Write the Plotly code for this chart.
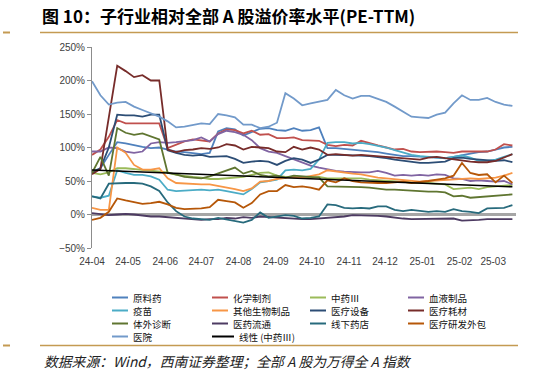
import plotly.graph_objects as go
import numpy as np
import pandas as pd

# ---------------- data (weekly, % premium vs. all-A PE-TTM) ----------------
dates = pd.date_range("2024-04-01", periods=51, freq="7D")

yuanliao = [64, 69, 89, 108, 106, 103, 101, 99, 100, 97, 94, 93, 92,
            90, 92, 124, 129, 127, 118, 123, 128, 129, 126, 125, 129, 125, 126, 130,
            99, 99, 98, 97, 96, 95, 93, 91, 89, 87,
            87, 86, 85, 84, 84, 86, 89, 91, 93, 94, 97, 100, 101]
huaxue = [89, 97, 116, 141, 136, 136, 136, 136, 136, 99, 104, 109, 112,
          111, 109, 121, 127, 126, 121, 125, 119, 120, 114, 114, 115, 111, 111, 110,
          104, 102, 104, 103, 110, 106, 103, 100, 97, 98, 94,
          93, 94, 94, 93, 92, 94, 94, 93, 94, 97, 105, 103]
zhongyao = [62, 60, 63, 69, 69, 68, 67, 66, 64, 63, 59, 57, 56,
            55, 53, 53, 54, 55, 56, 59, 62, 63, 58, 56, 55, 56, 55, 56,
            54, 54, 54, 53, 54, 52, 51, 51, 50, 49, 48,
            47, 47, 46, 45, 38, 39, 40, 38, 41, 42, 43, 44]
xueye = [94, 94, 100, 99, 94, 92, 94, 106, 108, 107, 108, 110, 111,
         115, 109, 120, 125, 123, 119, 111, 99, 94, 92, 87, 82, 77, 73, 70,
         67, 65, 64, 63, 63,
         63, 65, 62, 58, 59, 58, 59, 58, 60, 59, 54, 53, 50, 51, 50, 49, 50, 45]
yimiao = [27, 25, 28, 66, 62, 59, 59, 57, 52, 37, 35, 36, 37,
          37, 36, 37, 35, 33, 30, 38, 48, 50, 52, 66, 67, 66, 68, 82, 107, 108, 108, 106, 107,
          105, 103, 100, 96, 92, 89, 87, 86, 85, 84, 86, 88, 85, 80, 80, 82, 86, 90]
qita = [10, 7, 7, 100, 92, 74, 67, 67, 69, 54, 47, 46, 46,
        45, 45, 43, 41, 38, 35, 39, 49, 50, 53, 54, 56, 55, 57, 60,
        66, 64, 62, 61, 60, 57, 55, 54, 53, 52, 50,
        49, 50, 51, 52, 53, 54, 54, 53, 54, 55, 58, 62]
shebei = [62, 69, 100, 149, 148, 148, 146, 149, 149, 96, 92, 89, 88,
          89, 86, 87, 87, 83, 77, 79, 80, 79, 74, 80, 84, 82, 77, 82, 89, 89, 89, 88, 88,
          87, 86, 84, 82, 80, 78, 77, 77, 78, 79, 84, 85, 83, 82, 81, 80, 81, 78]
haocai = [60, 68, 145, 222, 214, 205, 208, 200, 200, 97, 93, 96, 97,
          99, 98, 100, 105, 103, 97, 101, 100, 99, 94, 93, 101, 97, 100, 97, 89, 90, 89, 88, 89,
          88, 87, 86, 85, 84, 83, 82, 85, 86, 84, 82, 81, 79, 78, 78, 80, 85, 90]
zhenduan = [62, 86, 58, 129, 122, 119, 121, 116, 112, 62, 60, 56, 55,
            54, 57, 61, 66, 70, 61, 65, 59, 57, 58, 55, 58, 57, 56, 55,
            42, 42, 42, 42, 41, 40, 38, 37, 37, 36, 36,
            35, 34, 34, 33, 27, 28, 25, 26, 27, 27, 28, 30]
liutong = [2, 1, -1, 0, 1, 0, -2, -3, -3, -4, -5, -6, -7,
           -8, -7, -7, -5, -6, -4, -5, -3, -4, -4, -5, -6, -7, -7, -6,
           -6, -5, -3, -1, -1, -1, -2, -3, -5, -6, -7,
           -7, -7, -7, -6, -6, -9, -9, -8, -7, -7, -7, -7]
yaodian = [27, 24, 46, 47, 47, 47, 46, 42, 35, 18, 5, -3, -6,
           -7, -8, -5, -7, -10, -12, -8, 3, -5, -3, -1, -2, -6, -5, -3,
           15, 14, 10, 9, 10, 9, 12, 12, 7, 5, 7,
           5, 4, 5, 4, 8, 5, 4, 2, 9, 9, 10, 14]
waibao = [-8, -5, 4, 24, 21, 19, 16, 17, 19, 15, 10, 8, 8,
          9, 11, 22, 20, 18, 10, 17, 30, 35, 35, 44, 41, 42, 40, 37,
          51, 48, 54, 50, 48, 47, 47, 47, 48, 49, 47,
          48, 50, 52, 54, 58, 77, 62, 59, 60, 48, 58, 47]
yiyuan = [199, 178, 164, 167, 168, 161, 156, 151, 146, 139, 130, 131, 134,
          136, 135, 150, 148, 145, 134, 134, 129, 131, 137, 181, 173, 163, 166, 169,
          171, 186, 178, 173, 177, 177, 173, 168, 161, 153, 146,
          145, 144, 149, 152, 166, 178, 171, 171, 174, 168, 164, 162]

names = ["原料药", "化学制剂", "中药Ⅲ", "血液制品", "疫苗", "其他生物制品", "医疗设备",
         "医疗耗材", "体外诊断", "医药流通", "线下药店", "医疗研发外包", "医院"]
values = [yuanliao, huaxue, zhongyao, xueye, yimiao, qita, shebei, haocai,
          zhenduan, liutong, yaodian, waibao, yiyuan]
colors = ["#4F81BD", "#C0504D", "#9BBB59", "#8064A2", "#4BACC6", "#F79646", "#2C4D75",
          "#772C2A", "#5F7530", "#4D3B62", "#276A7C", "#B65708", "#729ACA"]
trend_name = "线性 (中药Ⅲ)"
trend_color = "#000000"

# ---------------- figure ----------------
W, H = 542, 377
L, R, T, B = 92, 26, 47, 129
pw, ph = W - L - R, H - T - B


def px(x):
    return (x - L) / pw


def py(y):
    return (H - B - y) / ph


fig = go.Figure()
for nm, vals, col in zip(names, values, colors):
    fig.add_trace(go.Scatter(x=dates, y=vals, mode="lines", name=nm,
                             line=dict(color=col, width=1.8), showlegend=False))

# linear trend of 中药Ⅲ
idx = np.arange(len(zhongyao))
k, b0 = np.polyfit(idx, zhongyao, 1)
fig.add_trace(go.Scatter(x=[dates[0], dates[-1]], y=[b0, b0 + k * idx[-1]], mode="lines",
                         name=trend_name, line=dict(color=trend_color, width=1.6),
                         showlegend=False))

tickfont = dict(family="Liberation Sans Narrow, Arial Narrow, Liberation Sans, Arial",
                size=10, color="#404040")
cjk = "Noto Sans CJK SC"

fig.update_layout(
    width=W, height=H, margin=dict(l=L, r=R, t=T, b=B),
    plot_bgcolor="white", paper_bgcolor="white", showlegend=False,
    xaxis=dict(type="date", range=["2024-04-01", "2025-03-20"], tickformat="%y-%m",
               dtick="M1", tick0="2024-04-01", showgrid=False, showline=False,
               zeroline=False, ticks="", tickfont=tickfont, ticklabelstandoff=6),
    yaxis=dict(range=[-50, 250], dtick=50, ticksuffix="%", showgrid=False,
               showline=True, linecolor="#8C8C8C", linewidth=1, ticks="outside",
               ticklen=4, tickcolor="#8C8C8C", zeroline=True, zerolinecolor="#A6A6A6",
               zerolinewidth=3, tickfont=tickfont),
)

gold = "#C49A52"
for yy in (32.5, 345.5):
    fig.add_shape(type="line", xref="paper", yref="paper", layer="above",
                  x0=px(40), x1=px(518), y0=py(yy), y1=py(yy),
                  line=dict(color=gold, width=1.6))
    fig.add_shape(type="line", xref="paper", yref="paper", layer="above",
                  x0=px(3), x1=px(10), y0=py(yy), y1=py(yy),
                  line=dict(color=gold, width=2))

fig.add_annotation(text="<b>图 10：子行业相对全部 A 股溢价率水平(PE-TTM)</b>",
                   xref="paper", yref="paper", x=px(41), y=py(16), xanchor="left",
                   yanchor="middle", showarrow=False, borderpad=0,
                   font=dict(family=cjk, size=17, color="#000000"))
fig.add_annotation(text="数据来源：Wind，西南证券整理；全部 A 股为万得全 A 指数",
                   xref="paper", yref="paper", x=px(42), y=py(361), xanchor="left",
                   yanchor="middle", showarrow=False,
                   font=dict(family=cjk, size=13.8, color="#222222", style="italic"))

# legend drawn as line samples + labels
col_x = [112, 212, 310, 408]
row_y = [297.5, 310.5, 323.5, 336.5]
leg_names = names + [trend_name]
leg_colors = colors + [trend_color]
for i, (nm, col) in enumerate(zip(leg_names, leg_colors)):
    r, c = divmod(i, 4)
    x0 = col_x[c]
    x1 = x0 + (22 if nm == trend_name else 16)
    fig.add_shape(type="line", xref="paper", yref="paper", x0=px(x0), x1=px(x1),
                  y0=py(row_y[r]), y1=py(row_y[r]), line=dict(color=col, width=2))
    fig.add_annotation(text=nm, xref="paper", yref="paper", x=px(x1 + 4),
                       y=py(row_y[r]), xanchor="left", yanchor="middle",
                       showarrow=False, borderpad=0,
                       font=dict(family=cjk, size=9.5, color="#111111"))

fig.write_html("out.html", config={"displayModeBar": False},
               post_script="document.body.style.margin='0';document.body.style.overflow='hidden';")
